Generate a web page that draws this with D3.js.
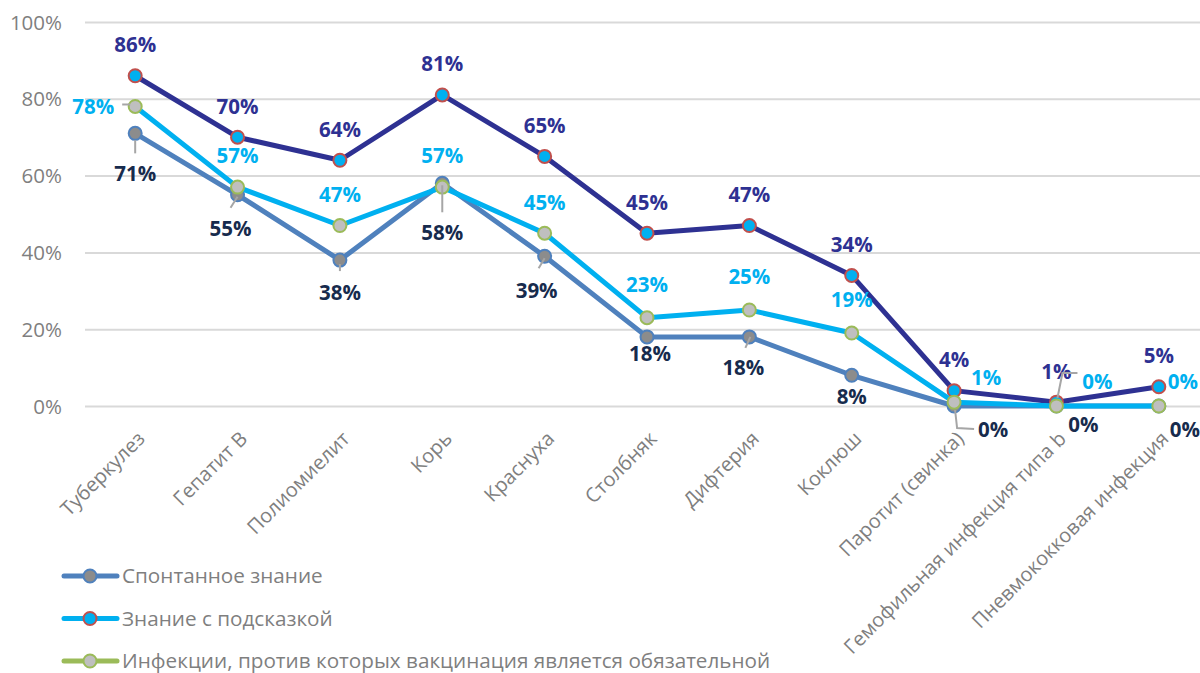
<!DOCTYPE html>
<html>
<head>
<meta charset="utf-8">
<script src="https://cdn.jsdelivr.net/npm/d3@7/dist/d3.min.js"></script>
<style>
  html, body { margin: 0; padding: 0; background: #ffffff; }
  svg { display: block; }
  text { font-family: "Open Sans", "Noto Sans", sans-serif; }
</style>
</head>
<body>
<svg id="chart" width="1200" height="673"></svg>
<script>
// Vaccine-preventable infections: awareness levels
const categories = [
  "Туберкулез", "Гепатит В", "Полиомиелит", "Корь", "Краснуха", "Столбняк",
  "Дифтерия", "Коклюш", "Паротит (свинка)", "Гемофильная инфекция типа b",
  "Пневмококковая инфекция"
];
const spontaneous = [71, 55, 38, 58, 39, 18, 18, 8, 0, 0, 0];
const prompted    = [86, 70, 64, 81, 65, 45, 47, 34, 4, 1, 5];
const mandatory   = [78, 57, 47, 57, 45, 23, 25, 19, 1, 0, 0];
const yTicks = [0, 20, 40, 60, 80, 100];
const legendLabels = [
  "Спонтанное знание",
  "Знание с подсказкой",
  "Инфекции, против которых вакцинация является обязательной"
];

// label placement (offset of label centre from its marker, px)
const promptedLabelPos = categories.map(() => [0, -31]);
const mandatoryLabelPos = [[-42, 0], [0, -32], [0, -31], [0, -32], [0, -31], [0, -33],
                           [0, -33], [0, -33], [32, -25], [41, -24], [24, -24]];
const spontaneousLabelPos = [[0, 40], [-7, 34], [0, 33], [0, 49], [-8, 34], [3, 17],
                             [-6, 31], [0, 21], [39, 24], [27, 19], [26, 24]];
// leader lines, points relative to the marker
const mandatoryLeaders = { 0: [[-13, -2], [-5, -2]], 9: [[1, -8], [6, -33], [21, -33]] };
const spontaneousLeaders = {
  0: [[0, 7], [0, 20]], 1: [[0, 2], [-7, 13]], 2: [[0, 4], [0, 11]], 3: [[0, 2], [0, 29]],
  4: [[0, 2], [-6, 12]], 6: [[1, 0], [-4, 11]], 8: [[1, 4], [3, 22], [20, 23]]
};

const svg = d3.select("#chart");

const x = d3.scalePoint().domain(categories).range([84, 1210]).padding(0.5);
const y = d3.scaleLinear().domain([0, 100]).range([406, 22]);

// gridlines + y tick labels
const yAxis = d3.axisLeft(y).tickValues(yTicks).tickSize(-1115).tickFormat(d => d + "%");
const gy = svg.append("g").attr("transform", "translate(85,0)").call(yAxis);
gy.select(".domain").remove();
gy.selectAll(".tick line").attr("stroke", "#d9d9d9").attr("stroke-width", 2);
gy.selectAll(".tick text")
  .attr("x", -23).attr("dy", "0.35em")
  .attr("fill", "#7f7f7f").style("font-size", "20.5px").style("font-family", "'Open Sans', sans-serif");

// category labels
const xAxis = d3.axisBottom(x).tickSize(0);
const gx = svg.append("g").call(xAxis);
gx.select(".domain").remove();
gx.selectAll(".tick").attr("transform", d => `translate(${x(d) + 11},440)`);
gx.selectAll(".tick text")
  .attr("x", 0).attr("y", 0).attr("dy", 0)
  .attr("transform", "rotate(-45)")
  .attr("text-anchor", "end")
  .attr("fill", "#7f7f7f").style("font-size", "20px").style("font-family", "'Open Sans', sans-serif");

const series = [
  { values: spontaneous, line: "#4f81bd", fill: "#8c8c8c", stroke: "#4f81bd",
    labelColor: "#172b4d", pos: spontaneousLabelPos, leaders: spontaneousLeaders },
  { values: prompted, line: "#2e3192", fill: "#00b0f0", stroke: "#c0504d",
    labelColor: "#2e3192", pos: promptedLabelPos, leaders: {} },
  { values: mandatory, line: "#00b0f0", fill: "#bfbfbf", stroke: "#9bbb59",
    labelColor: "#00b0f0", pos: mandatoryLabelPos, leaders: mandatoryLeaders }
];

const line = d3.line().x((d, i) => x(categories[i])).y(d => y(d));

series.forEach(s => {
  const g = svg.append("g");
  g.append("path").datum(s.values)
    .attr("d", line).attr("fill", "none")
    .attr("stroke", s.line).attr("stroke-width", 5).attr("stroke-linejoin", "round");
  g.selectAll("circle").data(s.values).join("circle")
    .attr("cx", (d, i) => x(categories[i])).attr("cy", d => y(d))
    .attr("r", 6.5).attr("fill", s.fill).attr("stroke", s.stroke).attr("stroke-width", 2);
});

// leaders and data labels
series.forEach(s => {
  const g = svg.append("g");
  Object.entries(s.leaders).forEach(([i, pts]) => {
    const cx = x(categories[+i]), cy = y(s.values[+i]);
    g.append("path")
      .attr("d", d3.line()(pts.map(p => [cx + p[0], cy + p[1]])))
      .attr("fill", "none").attr("stroke", "#a6a6a6").attr("stroke-width", 2);
  });
  g.selectAll("text").data(s.values).join("text")
    .attr("x", (d, i) => x(categories[i]) + s.pos[i][0])
    .attr("y", (d, i) => y(d) + s.pos[i][1])
    .attr("dy", "0.36em").attr("text-anchor", "middle")
    .attr("fill", s.labelColor).style("font-size", "20.5px").style("font-weight", "bold")
    .text(d => d + "%");
});

// legend
const legendStyles = [
  { line: "#4f81bd", fill: "#8c8c8c", stroke: "#4f81bd" },
  { line: "#00b0f0", fill: "#00b0f0", stroke: "#c0504d" },
  { line: "#9bbb59", fill: "#bfbfbf", stroke: "#9bbb59" }
];
const legend = svg.append("g");
legendLabels.forEach((label, i) => {
  const ly = 576 + i * 42.5;
  const st = legendStyles[i];
  legend.append("line").attr("x1", 64).attr("x2", 117).attr("y1", ly).attr("y2", ly)
    .attr("stroke", st.line).attr("stroke-width", 5).attr("stroke-linecap", "round");
  legend.append("circle").attr("cx", 90).attr("cy", ly).attr("r", 6.5)
    .attr("fill", st.fill).attr("stroke", st.stroke).attr("stroke-width", 2);
  legend.append("text").attr("x", 122).attr("y", ly).attr("dy", "0.36em")
    .attr("fill", "#7f7f7f").style("font-size", "20.7px").text(label);
});
</script>
</body>
</html>
